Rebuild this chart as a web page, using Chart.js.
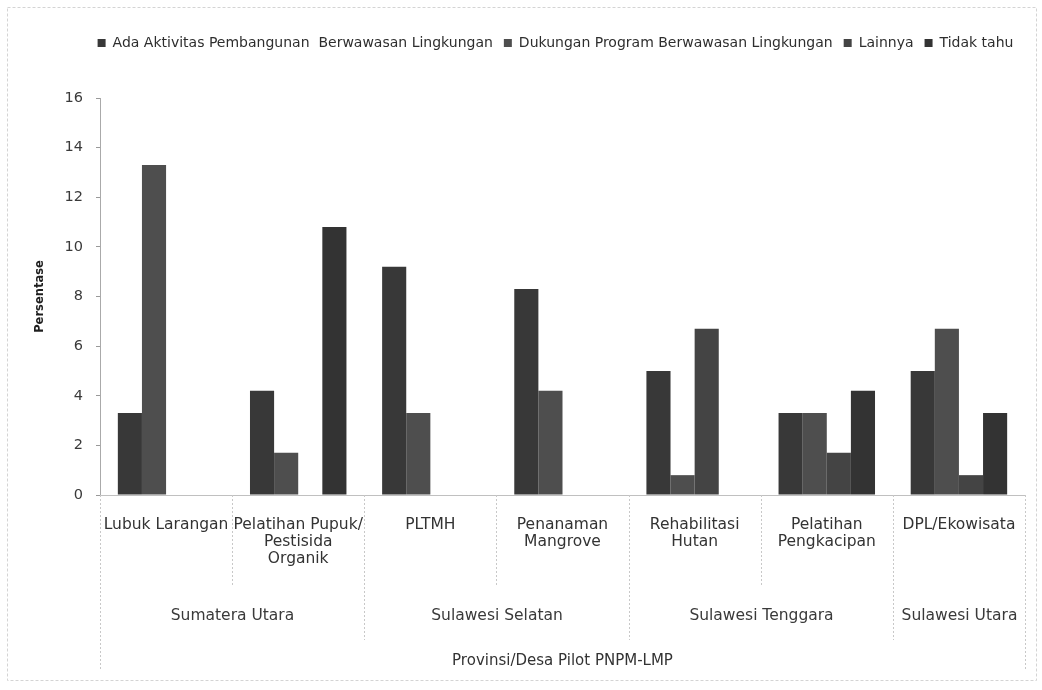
<!DOCTYPE html>
<html><head><meta charset="utf-8">
<script src="https://cdn.jsdelivr.net/npm/chart.js@4.4.1/dist/chart.umd.min.js"></script>
<style>html,body{margin:0;padding:0;background:#fff}#wrap{width:1042px;height:690px;position:relative}</style>
</head><body><div id="wrap"><canvas id="c" width="1042" height="690"></canvas></div>
<script>
const categories = [["Lubuk Larangan"],["Pelatihan Pupuk/","Pestisida","Organik"],["PLTMH"],["Penanaman","Mangrove"],["Rehabilitasi","Hutan"],["Pelatihan","Pengkacipan"],["DPL/Ekowisata"]];
const provinces = ["Sumatera Utara","Sulawesi Selatan","Sulawesi Tenggara","Sulawesi Utara"];
const provinceSpans = [2,2,2,1];
const seriesNames = ["Ada Aktivitas Pembangunan  Berwawasan Lingkungan","Dukungan Program Berwawasan Lingkungan","Lainnya","Tidak tahu"];
const adaAktivitas = [3.3,4.2,9.2,8.3,5.0,3.3,5.0];
const dukunganProgram = [13.3,1.7,3.3,4.2,0.8,3.3,6.7];
const lainnya = [0,0,0,0,6.7,1.7,0.8];
const tidakTahu = [0,10.8,0,0,0,4.2,3.3];
const yTicks = [0,2,4,6,8,10,12,14,16];
const yTitle = "Persentase";
const xTitle = "Provinsi/Desa Pilot PNPM-LMP";

const FONT = "'DejaVu Sans', sans-serif";
const seriesColors = ["#383838","#4e4e4e","#444444","#333333"];
const seriesValues = [adaAktivitas, dukunganProgram, lainnya, tidakTahu];

const PLOT_TOP = 98, PLOT_BOTTOM = 495, PLOT_LEFT = 100;

const extrasPlugin = {
  id: 'extras',
  beforeInit(chart) {
    const lg = chart.legend;
    if (lg) {
      const orig = lg.fit.bind(lg);
      lg.fit = function() { orig(); this.height = PLOT_TOP - chart.options.layout.padding.top; };
    }
  },
  afterLayout(chart) {
    const lg = chart.legend;
    if (lg) { lg.left += 38; lg.right += 38; }
  },
  beforeDraw(chart) {
    const ctx = chart.ctx;
    ctx.save();
    ctx.strokeStyle = '#d4d4d4';
    ctx.lineWidth = 1;
    ctx.setLineDash([3,2]);
    ctx.strokeRect(7.5, 7.5, 1029, 673);
    ctx.restore();
  },
  afterDraw(chart) {
    const ctx = chart.ctx;
    const xs = chart.scales.x;
    const area = chart.chartArea;
    const step = xs.getPixelForValue(1) - xs.getPixelForValue(0);
    const bound = i => Math.round(xs.getPixelForValue(i) - step / 2) + 0.5;
    const provBounds = [0];
    provinceSpans.forEach(s => provBounds.push(provBounds[provBounds.length - 1] + s));
    ctx.save();
    ctx.strokeStyle = '#c8c8c8';
    ctx.lineWidth = 1;
    ctx.setLineDash([2,2]);
    for (let i = 0; i <= categories.length; i++) {
      let end = area.bottom + 90;
      if (i === 0 || i === categories.length) end = area.bottom + 175;
      else if (provBounds.includes(i)) end = area.bottom + 145;
      ctx.beginPath();
      ctx.moveTo(bound(i), area.bottom);
      ctx.lineTo(bound(i), end);
      ctx.stroke();
    }
    ctx.setLineDash([]);
    ctx.fillStyle = '#3a3a3a';
    ctx.font = "15.5px " + FONT;
    ctx.textAlign = 'center';
    ctx.textBaseline = 'middle';
    provinces.forEach((p, k) => {
      const a = bound(provBounds[k]), b = bound(provBounds[k + 1]);
      ctx.fillText(p, (a + b) / 2, area.bottom + 121);
    });
    ctx.restore();
  }
};

new Chart(document.getElementById('c'), {
  type: 'bar',
  data: {
    labels: categories,
    datasets: seriesNames.map((n, i) => ({
      label: n,
      data: seriesValues[i],
      backgroundColor: seriesColors[i],
      borderWidth: 0,
      categoryPercentage: 0.73,
      barPercentage: 1.0
    }))
  },
  options: {
    responsive: false,
    animation: false,
    devicePixelRatio: 1,
    layout: { padding: { top: 25, left: 10, right: 17, bottom: 10 } },
    plugins: {
      legend: {
        position: 'top',
        labels: {
          boxWidth: 8, boxHeight: 8, padding: 11,
          color: '#2e2e2e',
          font: { family: FONT, size: 14 }
        }
      },
      tooltip: { enabled: false }
    },
    scales: {
      x: {
        grid: { display: false },
        border: { display: true, color: '#c0c0c0', dash: [3,2] },
        ticks: { color: '#333', font: { family: FONT, size: 15.5, lineHeight: 1.1 }, padding: 13, maxRotation: 0, autoSkip: false },
        title: { display: true, text: xTitle, color: '#333', font: { family: FONT, size: 15 }, padding: { top: 0, bottom: 10 } },
        afterFit(scale) { scale.height = 690 - 10 - PLOT_BOTTOM; }
      },
      y: {
        min: 0, max: 16,
        afterBuildTicks(scale) { scale.ticks = yTicks.map(v => ({ value: v })); },
        grid: { display: true, drawOnChartArea: false, drawTicks: true, tickLength: 4, color: '#999' },
        border: { display: true, color: '#aaa', dash: [2,2] },
        ticks: { color: '#3a3a3a', font: { family: FONT, size: 14.5 }, padding: 13 },
        title: { display: true, text: yTitle, color: '#1e1e1e', font: { family: FONT, size: 11.5, weight: 'bold' }, padding: { top: 23 } },
        afterFit(scale) { scale.width = PLOT_LEFT - 10; }
      }
    }
  },
  plugins: [extrasPlugin]
});
</script>
</body></html>
